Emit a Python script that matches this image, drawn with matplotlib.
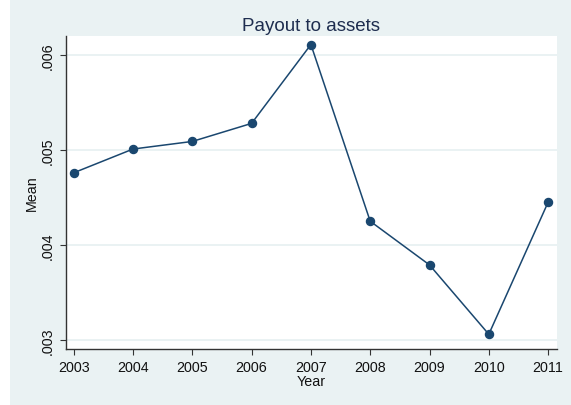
import matplotlib
matplotlib.use('Agg')
import matplotlib.pyplot as plt
import matplotlib.patches as mpatches

# values
years = [2003, 2004, 2005, 2006, 2007, 2008, 2009, 2010, 2011]
payout_mean = [0.00476, 0.00501, 0.00509, 0.00528, 0.00611, 0.00425, 0.00379, 0.00306, 0.00445]
y_ticks = [0.003, 0.004, 0.005, 0.006]
y_tick_labels = ['.003', '.004', '.005', '.006']

plt.rcParams['font.family'] = ['Liberation Sans', 'DejaVu Sans']

BG = '#eaf2f3'
NAVY = '#1a476f'

fig = plt.figure(figsize=(5.71, 4.06), dpi=100)
fig.patch.set_facecolor('white')
# Stata-style graph region (leaves a thin white margin on left and bottom)
fig.patches.append(mpatches.Rectangle((10 / 571, 0.5 / 406), 1 - 10 / 571, 1,
                                      transform=fig.transFigure, facecolor=BG,
                                      edgecolor='none', zorder=-10))

ax = fig.add_axes([66 / 571, 56 / 406, (557 - 66) / 571, (350 - 37) / 406])
ax.set_facecolor('white')

ax.plot(years, payout_mean, color=NAVY, linewidth=1.1, marker='o',
        markersize=5.8, markerfacecolor=NAVY, markeredgecolor=NAVY, zorder=3)

ax.set_xlim(2002.87, 2011.15)
ax.set_ylim(0.002905, 0.0062)
ax.set_xticks(years)
ax.set_xticklabels([str(y) for y in years])
ax.set_yticks(y_ticks)
ax.set_yticklabels(y_tick_labels, rotation=90, va='center')

ax.grid(axis='y', color=BG, linewidth=1.4, zorder=0)
ax.set_axisbelow(True)

for side in ['top', 'right']:
    ax.spines[side].set_visible(False)
for side in ['left', 'bottom']:
    ax.spines[side].set_color('#333333')
    ax.spines[side].set_linewidth(1.0)

ax.tick_params(axis='both', direction='out', length=4.5, width=0.8,
               color='#333333', labelsize=10.3, labelcolor='#111111', pad=3.5)

ax.set_xlabel('Year', fontsize=10.3, color='#111111')
ax.xaxis.set_label_coords(0.5, -(386 - 350) / (350 - 37), transform=ax.transAxes)
ax.xaxis.label.set_va('baseline')
ax.set_ylabel('Mean', fontsize=10.3, color='#111111')
ax.yaxis.set_label_coords(-(66 - 39) / (557 - 66), 0.5)

fig.text((66 + 557) / 2 / 571, (406 - 30.7) / 406, 'Payout to assets',
         ha='center', va='baseline', fontsize=13.5, color='#1e2d4f')

fig.savefig('out.png', dpi=100, facecolor=fig.get_facecolor())
